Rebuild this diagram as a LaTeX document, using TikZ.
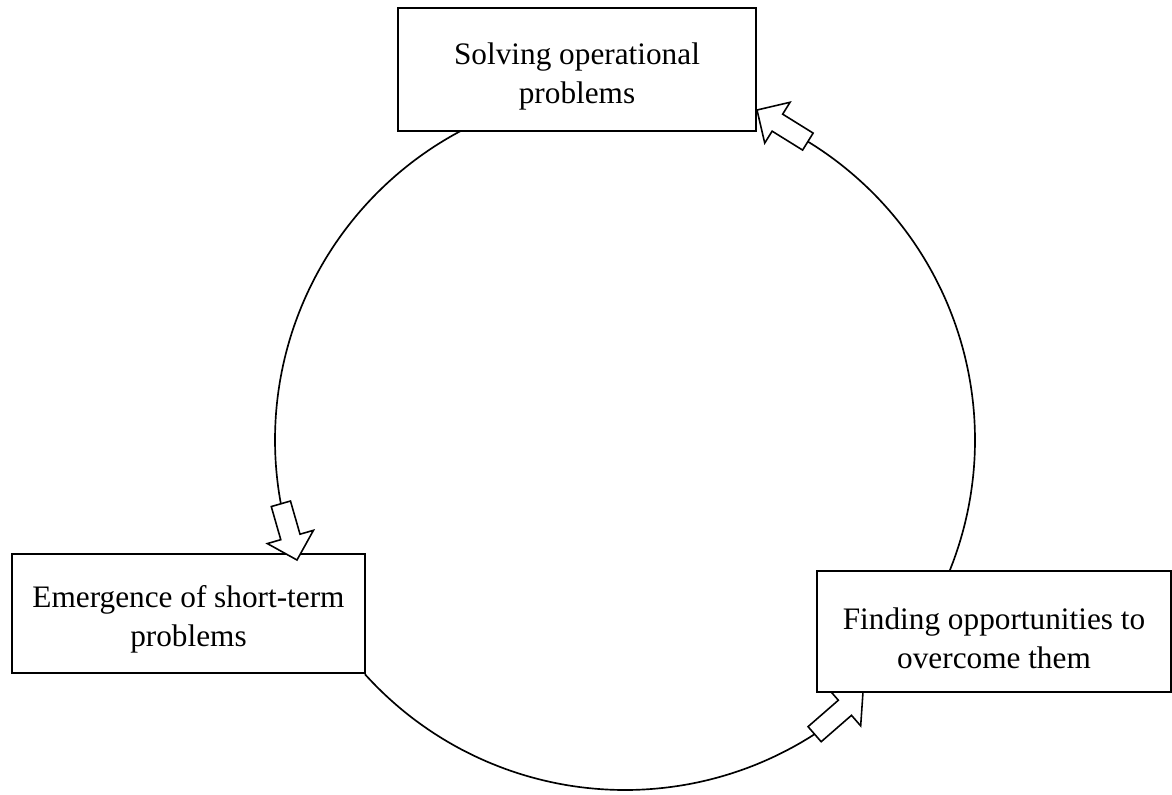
\documentclass[tikz,border=0pt]{standalone}
\usepackage{fontspec}
\setmainfont{Liberation Serif}
\usetikzlibrary{calc}
\pgfdeclarelayer{background}
\pgfsetlayers{background,main}

\tikzset{
  stagebox/.style={draw, line width=1.1pt, fill=white, inner sep=0pt},
  stagetext/.style={inner sep=0pt, align=center,
    font=\fontsize{17.8}{22}\selectfont},
  cycleline/.style={line width=0.95pt},
  blockarrow/.style={draw, line width=0.9pt, fill=white, line join=miter},
}

% Hollow block arrow: #1 = name, #2 = tip, #3 = tail
\newcommand\hollowarrow[3]{%
  \coordinate (#1-tip) at #2;
  \coordinate (#1-tail) at #3;
  \coordinate (#1-base) at ($(#1-tip)!0.48cm!(#1-tail)$);
  \draw[blockarrow] (#1-tip)
    -- ($(#1-base)!0.48cm!90:(#1-tip)$)
    -- ($(#1-base)!0.2cm!90:(#1-tip)$)
    -- ($(#1-tail)!0.2cm!90:(#1-tip)$)
    -- ($(#1-tail)!0.2cm!-90:(#1-tip)$)
    -- ($(#1-base)!0.2cm!-90:(#1-tip)$)
    -- ($(#1-base)!0.48cm!-90:(#1-tip)$)
    -- cycle;
}

\begin{document}
\begin{tikzpicture}[x=0.02cm, y=-0.02cm]
  \useasboundingbox (0,0) rectangle (1172,794);

  % the three stages of the cycle
  \node[stagebox, minimum width=7.16cm, minimum height=2.46cm]
    (solve) at (577,69.5) {};
  \node[stagebox, minimum width=7.06cm, minimum height=2.38cm]
    (emerge) at (188.5,613.5) {};
  \node[stagebox, minimum width=7.08cm, minimum height=2.42cm]
    (find) at (994,631.5) {};

  \node[stagetext] (solve-text) at ($(solve.center)+(0,7)$)
    {Solving operational\\problems};
  \node[stagetext] (emerge-text) at ($(emerge.center)+(0,6)$)
    {Emergence of short-term\\problems};
  \node[stagetext] (find-text) at ($(find.center)+(0,7)$)
    {Finding opportunities to\\overcome them};

  \coordinate (hub) at (625,440);

  \begin{pgfonlayer}{background}
    % circular connectors between the stages
    \draw[cycleline] plot[domain=-118:-190.5, samples=90, smooth]
      ({625+350*cos(\x)},{440+350*sin(\x)});
    \draw[cycleline] plot[domain=138:57.2, samples=90, smooth]
      ({625+350*cos(\x)},{440+350*sin(\x)});
    \draw[cycleline] plot[domain=22.2:-58.5, samples=90, smooth]
      ({625+350*cos(\x)},{440+350*sin(\x)});

    \hollowarrow{toSolve}{(757,110)}{($(hub)+(-58.5:350)$)}
    \hollowarrow{toFind}{(863,692)}{($(hub)+(57.2:350)$)}
  \end{pgfonlayer}

  \hollowarrow{toEmerge}{(297,560)}{($(hub)+(169.5:350)$)}
\end{tikzpicture}
\end{document}
